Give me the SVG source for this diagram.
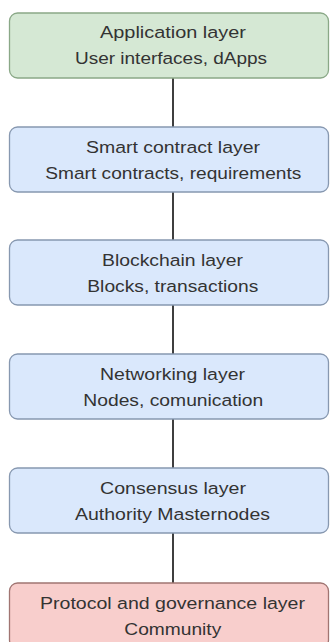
<svg xmlns="http://www.w3.org/2000/svg" width="332" height="642" viewBox="0 0 332 642">
  <style>
    .box { stroke-width: 1.3; }
    .app { fill: #d5e8d4; stroke: #8aa887; }
    .mid { fill: #dae8fc; stroke: #8798b0; }
    .gov { fill: #f8cecc; stroke: #a07572; }
    .lbl { font-family: "Liberation Sans", Arial, sans-serif; font-size: 16.3px; fill: #333333; text-anchor: middle; }
    .link { stroke: #3f3f3f; stroke-width: 2; fill: none; }
  </style>
  <rect width="332" height="642" fill="#ffffff"/>

  <!-- vertical links between stacked layers -->
  <g id="connectors">
    <line class="link" x1="173" y1="78" x2="173" y2="127"/>
    <line class="link" x1="173" y1="192" x2="173" y2="240"/>
    <line class="link" x1="173" y1="305" x2="173" y2="354"/>
    <line class="link" x1="173" y1="419" x2="173" y2="468"/>
    <line class="link" x1="173" y1="533" x2="173" y2="583"/>
  </g>

  <g id="application-layer">
    <rect class="box app" x="9.5" y="13" width="319" height="65" rx="8"/>
    <text class="lbl" x="173" y="38.3" textLength="146" lengthAdjust="spacingAndGlyphs">Application layer</text>
    <text class="lbl" x="171" y="64.3" textLength="192" lengthAdjust="spacingAndGlyphs">User interfaces, dApps</text>
  </g>

  <g id="smart-contract-layer">
    <rect class="box mid" x="9.5" y="127" width="319" height="65" rx="8"/>
    <text class="lbl" x="173" y="152.5" textLength="174" lengthAdjust="spacingAndGlyphs">Smart contract layer</text>
    <text class="lbl" x="173.3" y="178.5" textLength="256" lengthAdjust="spacingAndGlyphs">Smart contracts, requirements</text>
  </g>

  <g id="blockchain-layer">
    <rect class="box mid" x="9.5" y="240" width="319" height="65" rx="8"/>
    <text class="lbl" x="172.5" y="265.5" textLength="141" lengthAdjust="spacingAndGlyphs">Blockchain layer</text>
    <text class="lbl" x="172.8" y="291.5" textLength="171" lengthAdjust="spacingAndGlyphs">Blocks, transactions</text>
  </g>

  <g id="networking-layer">
    <rect class="box mid" x="9.5" y="354" width="319" height="65" rx="8"/>
    <text class="lbl" x="172.5" y="379.5" textLength="145" lengthAdjust="spacingAndGlyphs">Networking layer</text>
    <text class="lbl" x="173.3" y="405.5" textLength="180" lengthAdjust="spacingAndGlyphs">Nodes, comunication</text>
  </g>

  <g id="consensus-layer">
    <rect class="box mid" x="9.5" y="468" width="319" height="65" rx="8"/>
    <text class="lbl" x="173" y="493.5" textLength="146" lengthAdjust="spacingAndGlyphs">Consensus layer</text>
    <text class="lbl" x="172.5" y="519.5" textLength="195" lengthAdjust="spacingAndGlyphs">Authority Masternodes</text>
  </g>

  <g id="protocol-governance-layer">
    <rect class="box gov" x="9.5" y="583" width="319" height="65" rx="8"/>
    <text class="lbl" x="172.5" y="608.5" textLength="265" lengthAdjust="spacingAndGlyphs">Protocol and governance layer</text>
    <text class="lbl" x="172.8" y="634.5" textLength="97" lengthAdjust="spacingAndGlyphs">Community</text>
  </g>
</svg>
